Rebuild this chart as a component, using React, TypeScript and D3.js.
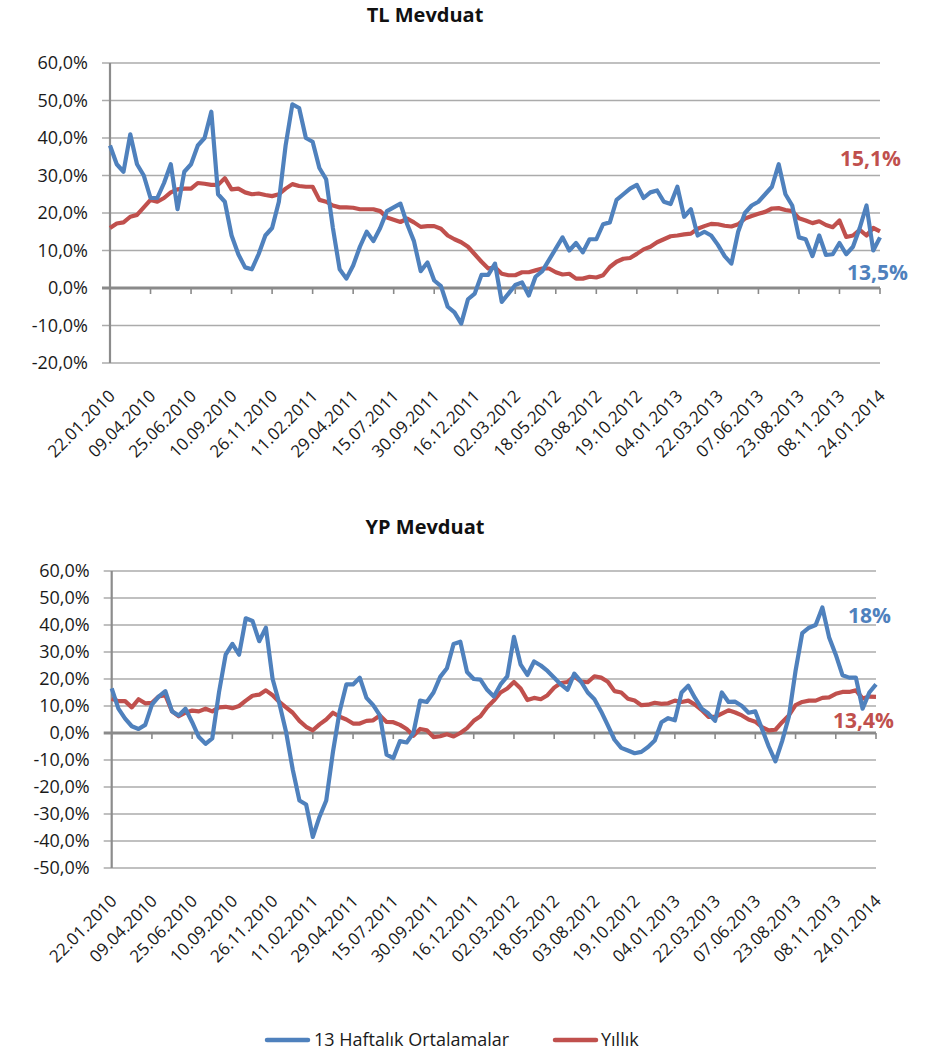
import React from 'react';
import * as d3 from 'd3';

// tick labels on the date axis (every 11 weeks)
const dateLabels = [
  '22.01.2010', '09.04.2010', '25.06.2010', '10.09.2010', '26.11.2010',
  '11.02.2011', '29.04.2011', '15.07.2011', '30.09.2011', '16.12.2011',
  '02.03.2012', '18.05.2012', '03.08.2012', '19.10.2012', '04.01.2013',
  '22.03.2013', '07.06.2013', '23.08.2013', '08.11.2013', '24.01.2014',
];

// TL Mevduat - 13 haftalık ortalamalar (%)
const tlWeekly = [
  38, 33, 31, 41, 33, 30, 24, 24, 28, 33, 21, 31, 33, 38, 40, 47, 25, 23, 14, 9,
  5.5, 5, 9, 14, 16, 23, 38, 49, 48, 40, 39, 32, 29, 16, 5, 2.5, 6, 11, 15, 12.5,
  16, 20.5, 21.5, 22.5, 17, 12.5, 4.5, 6.8, 2, 0.5, -5, -6.5, -9.5, -3, -1.5, 3.5, 3.5, 6.5, -3.7, -1.5,
  0.8, 1.5, -2, 3, 4.5, 7.5, 10.5, 13.5, 10, 12, 9.5, 13, 13, 17, 17.5, 23.5, 25, 26.5, 27.5, 24,
  25.5, 26, 23, 22.4, 27, 19, 21, 14, 15, 14, 11.5, 8.5, 6.5, 15, 20, 22, 23, 25, 27, 33,
  25, 22, 13.5, 13, 8.5, 14, 8.8, 9, 12, 9, 11, 16, 22, 10, 13.5,
];

// TL Mevduat - yıllık (%)
const tlAnnual = [
  16, 17.2, 17.5, 19, 19.5, 21.5, 23.5, 23, 24, 25.5, 26.3, 26.5, 26.5, 28, 27.8, 27.5, 27.5, 29.3, 26.3, 26.5,
  25.5, 25, 25.2, 24.8, 24.5, 25, 26.5, 27.7, 27.2, 27, 27, 23.5, 23, 22, 21.5, 21.5, 21.4, 21, 21, 21,
  20.5, 18.8, 18.2, 17.6, 18.5, 17.5, 16.3, 16.5, 16.5, 15.8, 14, 13, 12.2, 11, 9, 7, 5.2, 5.5, 3.8, 3.4,
  3.4, 4.2, 4.2, 4.7, 5.2, 5.2, 4.2, 3.6, 3.8, 2.5, 2.5, 3, 2.8, 3.4, 5.6, 7, 7.8, 8, 9.1, 10.3,
  11, 12.2, 13, 13.8, 14, 14.3, 14.5, 15.8, 16.5, 17.1, 17, 16.6, 16.4, 17, 18.5, 19.2, 19.8, 20.3, 21.2, 21.3,
  20.8, 20.5, 18.6, 18, 17.3, 17.8, 16.8, 16.2, 18, 13.6, 14, 15.5, 14, 16, 15.1,
];

// YP Mevduat - 13 haftalık ortalamalar (%)
const ypWeekly = [
  16.5, 9, 5.3, 2.5, 1.5, 3, 10.5, 13.5, 15.5, 8, 6.5, 9, 4, -1.5, -4, -2, 15, 29, 33, 29,
  42.5, 41.5, 34, 39, 20, 11, 0.5, -13.5, -25, -26.5, -38.5, -31, -25, -7, 8, 18, 18, 20.5, 13, 10.3,
  6.5, -8, -9.3, -3, -3.5, 0, 12, 11.5, 15, 20.8, 24, 33, 33.8, 22.6, 20, 19.8, 16, 13.5, 18, 21,
  35.6, 25.3, 21.5, 26.5, 25, 23, 20.5, 18, 16, 22, 19, 15, 12.5, 8, 2.8, -2.5, -5.5, -6.5, -7.5, -7,
  -5.2, -2.8, 4, 5.5, 4.7, 15, 17.5, 13, 9, 7.2, 4.5, 15, 11.5, 11.6, 10, 7.5, 8, 1.5, -5, -10.5,
  -3, 6, 23, 37, 39, 40, 46.5, 35.5, 29, 21.4, 20.5, 20.5, 9, 15, 18,
];

// YP Mevduat - yıllık (%)
const ypAnnual = [
  12.7, 11.8, 11.8, 9.5, 12.5, 11, 11.2, 13.5, 14, 8, 6.2, 7.5, 8.3, 8, 9, 8, 9.5, 9.7, 9.2, 10,
  12, 13.8, 14.2, 15.8, 14, 11.5, 9.5, 7.5, 4.5, 2.3, 1, 3.2, 5, 7.5, 6, 5, 3.5, 3.5, 4.5, 4.7,
  6.5, 4.1, 4, 3, 1.5, -1, 1.5, 1, -1.5, -1.2, -0.5, -1.3, 0, 1.8, 4.5, 6.2, 9.5, 12, 15, 16.5,
  18.9, 16.5, 12.2, 13, 12.5, 14, 16.8, 18.5, 18.9, 21, 19, 18.8, 21, 20.5, 19, 15.5, 15, 12.7, 12, 10.3,
  10.5, 11.2, 10.8, 11, 12, 11.5, 12, 10.5, 8.5, 6, 6, 7.2, 8.4, 7.6, 6.5, 5, 4.2, 2.2, 1, 1.2,
  4, 6.5, 10.3, 11.5, 12, 12, 13, 13.2, 14.5, 15.2, 15.2, 15.8, 12.8, 13.5, 13.4,
];

const seriesNames = ['13 Haftalık Ortalamalar', 'Yıllık'];

const BLUE = '#4F81BD';
const RED = '#C0504D';
const FONT = '"Open Sans", "Noto Sans", sans-serif';

const pct = d3
  .formatLocale({ decimal: ',', thousands: '.', grouping: [3], currency: ['', ''], minus: '-' })
  .format('.1f');

interface Note {
  text: string;
  color: string;
  x: number;
  y: number;
}

interface PanelProps {
  title: string;
  titleY: number;
  weekly: number[];
  annual: number[];
  left: number;
  right: number;
  top: number;
  bottom: number;
  yMin: number;
  yMax: number;
  notes: Note[];
}

const Panel = ({ title, titleY, weekly, annual, left, right, top, bottom, yMin, yMax, notes }: PanelProps) => {
  const x = d3.scaleLinear().domain([0, weekly.length - 1]).range([left, right]);
  const y = d3.scaleLinear().domain([yMin, yMax]).range([bottom, top]);
  const line = d3
    .line<number>()
    .x((_, i) => x(i))
    .y((d) => y(d));

  const yTicks = d3.range(yMin, yMax + 1, 10);
  const step = (weekly.length - 1) / (dateLabels.length - 1);

  return (
    <g>
      <text x={425} y={titleY} textAnchor="middle" fontFamily={FONT} fontWeight="bold" fontSize={20} fill="#111">
        {title}
      </text>

      {/* grid + y labels */}
      {yTicks.map((t) => (
        <g key={t}>
          {t !== 0 && <line x1={left - 8} x2={right} y1={y(t)} y2={y(t)} stroke="#ababab" strokeWidth={1.6} />}
          <text x={left - 22} y={y(t)} dy="0.35em" textAnchor="end" fontFamily={FONT} fontSize={18} fill="#1a1a1a">
            {pct(t) + '%'}
          </text>
        </g>
      ))}

      {/* left axis */}
      <line x1={left} x2={left} y1={top} y2={bottom} stroke="#8c8c8c" strokeWidth={2.2} />
      {/* zero line with ticks */}
      <line x1={left - 8} x2={right} y1={y(0)} y2={y(0)} stroke="#8a8a8a" strokeWidth={2.8} />
      {dateLabels.map((_, j) => (
        <line key={j} x1={x(j * step)} x2={x(j * step)} y1={y(0)} y2={y(0) + 6} stroke="#8a8a8a" strokeWidth={1.6} />
      ))}

      {/* date labels */}
      {dateLabels.map((d, j) => (
        <text
          key={d}
          transform={`translate(${x(j * step) + 2},${bottom + 30}) rotate(-45)`}
          textAnchor="end"
          dy="0.35em"
          fontFamily={FONT}
          fontSize={17}
          fill="#1a1a1a"
        >
          {d}
        </text>
      ))}

      {/* series */}
      <path d={line(annual) ?? ''} fill="none" stroke={RED} strokeWidth={4.2} strokeLinejoin="round" />
      <path d={line(weekly) ?? ''} fill="none" stroke={BLUE} strokeWidth={4.2} strokeLinejoin="round" />

      {notes.map((n) => (
        <text key={n.text} x={n.x} y={n.y} fontFamily={FONT} fontWeight="bold" fontSize={21} fill={n.color}>
          {n.text}
        </text>
      ))}
    </g>
  );
};

export default function App() {
  return (
    <div style={{ position: 'absolute', left: 0, top: 0 }}>
      <svg width={928} height={1050} style={{ display: 'block', background: '#fff' }}>
        <Panel
          title="TL Mevduat"
          titleY={22}
          weekly={tlWeekly}
          annual={tlAnnual}
          left={110}
          right={880}
          top={63}
          bottom={363}
          yMin={-20}
          yMax={60}
          notes={[
            { text: '15,1%', color: RED, x: 840, y: 166 },
            { text: '13,5%', color: BLUE, x: 847, y: 280 },
          ]}
        />
        <Panel
          title="YP Mevduat"
          titleY={534}
          weekly={ypWeekly}
          annual={ypAnnual}
          left={111.7}
          right={876}
          top={571}
          bottom={868}
          yMin={-50}
          yMax={60}
          notes={[
            { text: '18%', color: BLUE, x: 848, y: 623 },
            { text: '13,4%', color: RED, x: 833, y: 728 },
          ]}
        />
        {/* legend */}
        <line x1={267} x2={308} y1={1040} y2={1040} stroke={BLUE} strokeWidth={4.5} strokeLinecap="round" />
        <text x={314} y={1046} fontFamily={FONT} fontSize={18} fill="#1a1a1a">
          {seriesNames[0]}
        </text>
        <line x1={555} x2={596} y1={1040} y2={1040} stroke={RED} strokeWidth={4.5} strokeLinecap="round" />
        <text x={601} y={1046} fontFamily={FONT} fontSize={18} fill="#1a1a1a">
          {seriesNames[1]}
        </text>
      </svg>
    </div>
  );
}
